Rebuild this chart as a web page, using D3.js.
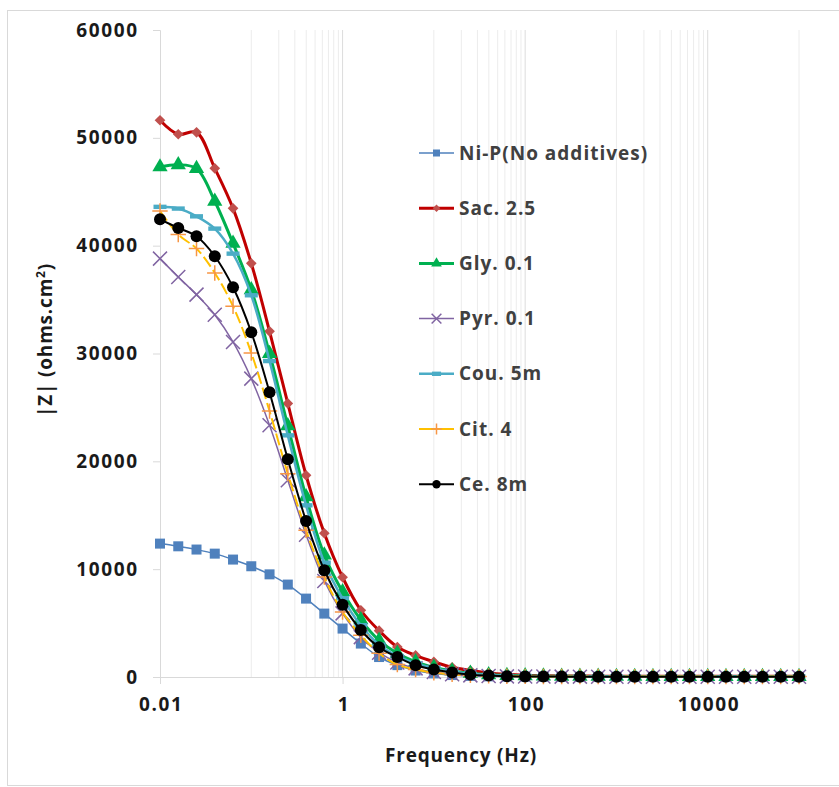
<!DOCTYPE html>
<html>
<head>
<meta charset="utf-8">
<script src="https://cdn.jsdelivr.net/npm/d3@7"></script>
<style>
  body { margin: 0; background: #fff; }
  text { font-family: "Open Sans", "Liberation Sans", sans-serif; font-weight: 700; }
</style>
</head>
<body>
<svg id="chart" width="839" height="787"></svg>
<script>
// frequency points (Hz), 5 per decade
var freq = [0.01, 0.01585, 0.02512, 0.03981, 0.0631, 0.1, 0.1585, 0.2512, 0.3981, 0.631,
  1, 1.585, 2.512, 3.981, 6.31, 10, 15.85, 25.12, 39.81, 63.1,
  100, 158.5, 251.2, 398.1, 631, 1000, 1585, 2512, 3981, 6310,
  10000, 15850, 25120, 39810, 63100, 100000];

// |Z| values
var niP = [12370, 12120, 11820, 11440, 10890, 10270, 9520, 8570, 7270, 5880, 4490, 3100, 1850, 1100, 600, 330, 180, 100, 60, 40, 30, 25, 22, 20, 20, 19, 19, 18, 18, 18, 18, 18, 18, 18, 18, 18];
var sac = [51630, 50330, 50510, 47170, 43460, 38360, 32060, 25370, 18710, 13330, 9250, 6190, 4300, 2780, 2000, 1400, 900, 600, 380, 250, 170, 125, 100, 90, 80, 75, 70, 68, 66, 65, 64, 63, 62, 62, 61, 61];
var gly = [47300, 47500, 47150, 44120, 40210, 35900, 30000, 23300, 16700, 11300, 7900, 5300, 3400, 2200, 1400, 900, 560, 340, 210, 140, 100, 80, 65, 58, 54, 52, 50, 49, 48, 48, 47, 47, 47, 46, 46, 46];
var pyr = [38800, 37100, 35460, 33600, 31070, 27670, 23340, 18240, 13200, 8900, 5900, 3700, 2250, 1350, 800, 460, 260, 150, 90, 60, 45, 38, 34, 32, 30, 29, 29, 28, 28, 28, 27, 27, 27, 27, 27, 27];
var cou = [43600, 43440, 42720, 41580, 39260, 35400, 29300, 22410, 15920, 10600, 7300, 4800, 3000, 1950, 1250, 800, 500, 300, 190, 120, 90, 70, 60, 55, 50, 48, 47, 46, 45, 45, 44, 44, 44, 44, 43, 43];
var cit = [43220, 41030, 39730, 37470, 34380, 30050, 24660, 18860, 13600, 9270, 6030, 3870, 2200, 1150, 700, 400, 240, 150, 100, 70, 55, 48, 44, 42, 40, 39, 38, 38, 37, 37, 37, 36, 36, 36, 36, 36];
var ce = [42440, 41640, 40870, 39020, 36140, 31970, 26400, 20190, 14470, 9900, 6710, 4360, 2750, 1850, 1090, 690, 410, 220, 130, 70, 50, 40, 35, 30, 30, 28, 28, 27, 27, 26, 26, 26, 25, 25, 25, 25];

var names = ["Ni-P(No additives)", "Sac. 2.5", "Gly. 0.1", "Pyr. 0.1", "Cou. 5m", "Cit. 4", "Ce. 8m"];
var xTicks = [0.01, 1, 100, 10000];
var yTicks = [0, 10000, 20000, 30000, 40000, 50000, 60000];
var minorDecades = [0.1, 10, 1000];

var series = [
  {name: names[0], values: niP, line: "#4f81bd", mark: "#4f81bd", width: 1.5, shape: "square"},
  {name: names[1], values: sac, line: "#c00000", mark: "#c0504d", width: 3, shape: "diamond"},
  {name: names[2], values: gly, line: "#00b050", mark: "#00b050", width: 3, shape: "triangle"},
  {name: names[3], values: pyr, line: "#8064a2", mark: "#8064a2", width: 1.5, shape: "x"},
  {name: names[4], values: cou, line: "#4bacc6", mark: "#4bacc6", width: 2.5, shape: "dash"},
  {name: names[5], values: cit, line: "#ffc000", mark: "#f79646", width: 2, shape: "plus", dash: "12,4"},
  {name: names[6], values: ce, line: "#000000", mark: "#000000", width: 2, shape: "circle"}
];

var svg = d3.select("#chart");

// chart border
svg.append("rect")
  .attr("x", 7.5).attr("y", 10.5)
  .attr("width", 840).attr("height", 775)
  .attr("fill", "none").attr("stroke", "#d9d9d9");

var x = d3.scaleLog().domain([0.01, 100000]).range([160, 799]);
var y = d3.scaleLinear().domain([0, 60000]).range([677, 30]);

// vertical gridlines
var minor = [];
minorDecades.forEach(function(d) {
  for (var m = 1; m < 10; m++) minor.push(d * m);
});
minor.push(100000);

svg.append("g").selectAll("line").data(minor).enter().append("line")
  .attr("x1", function(d) { return x(d); }).attr("x2", function(d) { return x(d); })
  .attr("y1", y(60000)).attr("y2", y(0))
  .attr("stroke", "#ececec").attr("stroke-width", 1);

svg.append("g").selectAll("line").data(xTicks.slice(1)).enter().append("line")
  .attr("x1", function(d) { return x(d); }).attr("x2", function(d) { return x(d); })
  .attr("y1", y(60000)).attr("y2", y(0))
  .attr("stroke", "#dcdcdc").attr("stroke-width", 1);

// axes
var xAxis = svg.append("g")
  .attr("transform", "translate(0," + y(0) + ")")
  .call(d3.axisBottom(x).tickValues(xTicks).tickFormat(function(d) { return String(d); }).tickSize(7).tickPadding(14));
xAxis.select(".domain").attr("stroke", "#d9d9d9");
xAxis.selectAll(".tick line").attr("stroke", "#d9d9d9");
xAxis.selectAll(".tick text").attr("font-size", 19).attr("fill", "#1a1a1a")
  .attr("dx", 0.8)
  .style("letter-spacing", "1.6px")
  .style("font-family", '"Open Sans", sans-serif').style("font-weight", 700);

var yAxis = svg.append("g")
  .attr("transform", "translate(" + x(0.01) + ",0)")
  .call(d3.axisLeft(y).tickValues(yTicks).tickFormat(d3.format("d")).tickSize(7).tickPadding(16));
yAxis.select(".domain").attr("stroke", "#d9d9d9");
yAxis.selectAll(".tick line").attr("stroke", "#d9d9d9");
yAxis.selectAll(".tick text").attr("font-size", 19).attr("fill", "#1a1a1a")
  .attr("dx", 1.6)
  .style("letter-spacing", "1.6px")
  .style("font-family", '"Open Sans", sans-serif').style("font-weight", 700);

// axis titles
svg.append("text")
  .attr("x", 461).attr("y", 762)
  .attr("text-anchor", "middle")
  .attr("font-size", 19).attr("fill", "#1a1a1a")
  .style("letter-spacing", "0.8px")
  .text("Frequency (Hz)");

var yt = svg.append("text")
  .attr("transform", "translate(52,340) rotate(-90)")
  .attr("text-anchor", "middle")
  .attr("font-size", 19).attr("fill", "#1a1a1a")
  .style("letter-spacing", "0.8px");
yt.append("tspan").text("|Z|  (ohms.cm");
yt.append("tspan").attr("font-size", 12).attr("dy", -7).text("2");
yt.append("tspan").attr("dy", 7).text(")");

// markers
function drawMarker(g, shape, color, s) {
  if (shape === "square") {
    g.append("rect").attr("x", -s / 2).attr("y", -s / 2).attr("width", s).attr("height", s).attr("fill", color);
  } else if (shape === "diamond") {
    g.append("path").attr("d", d3.symbol().type(d3.symbolDiamond2).size(s * s * 0.9)).attr("fill", color);
  } else if (shape === "triangle") {
    g.append("path").attr("d", d3.symbol().type(d3.symbolTriangle).size(s * s * 0.7)).attr("fill", color);
  } else if (shape === "x") {
    g.append("path").attr("d", d3.symbol().type(d3.symbolX).size(s * s * 0.9))
      .attr("fill", "none").attr("stroke", color).attr("stroke-width", 1.5);
  } else if (shape === "dash") {
    g.append("rect").attr("x", -s * 0.65).attr("y", -2.2).attr("width", s * 1.3).attr("height", 4.4).attr("fill", color);
  } else if (shape === "plus") {
    g.append("path").attr("d", "M" + (-s * 0.7) + ",0H" + (s * 0.7) + "M0," + (-s * 0.7) + "V" + (s * 0.7))
      .attr("fill", "none").attr("stroke", color).attr("stroke-width", 1.5);
  } else if (shape === "circle") {
    g.append("circle").attr("r", s / 2).attr("fill", color);
  }
}

var markSize = {square: 10, diamond: 9, triangle: 12, x: 12, dash: 10, plus: 11, circle: 12};

var line = d3.line()
  .x(function(d) { return x(d[0]); })
  .y(function(d) { return y(d[1]); })
  .curve(d3.curveCatmullRom.alpha(0.5));

series.forEach(function(s) {
  var pts = freq.map(function(f, i) { return [f, s.values[i]]; });
  var g = svg.append("g");
  g.append("path")
    .attr("d", line(pts))
    .attr("fill", "none")
    .attr("stroke", s.line)
    .attr("stroke-width", s.width)
    .attr("stroke-dasharray", s.dash || null);
  g.selectAll("g.m").data(pts).enter().append("g")
    .attr("class", "m")
    .attr("transform", function(d) { return "translate(" + x(d[0]) + "," + y(d[1]) + ")"; })
    .each(function() { drawMarker(d3.select(this), s.shape, s.mark, markSize[s.shape]); });
});

// legend
var legend = svg.append("g");
series.forEach(function(s, i) {
  var ly = 153 + i * 55.2;
  legend.append("line")
    .attr("x1", 419).attr("x2", 454).attr("y1", ly).attr("y2", ly)
    .attr("stroke", s.line).attr("stroke-width", s.width);
  var mg = legend.append("g").attr("transform", "translate(436.5," + ly + ")");
  drawMarker(mg, s.shape, s.mark, markSize[s.shape] * 0.7);
  legend.append("text")
    .attr("x", 459).attr("y", ly).attr("dy", "0.35em")
    .attr("font-size", 19).attr("fill", "#404040")
    .style("letter-spacing", "1px")
    .text(s.name);
});
</script>
</body>
</html>
